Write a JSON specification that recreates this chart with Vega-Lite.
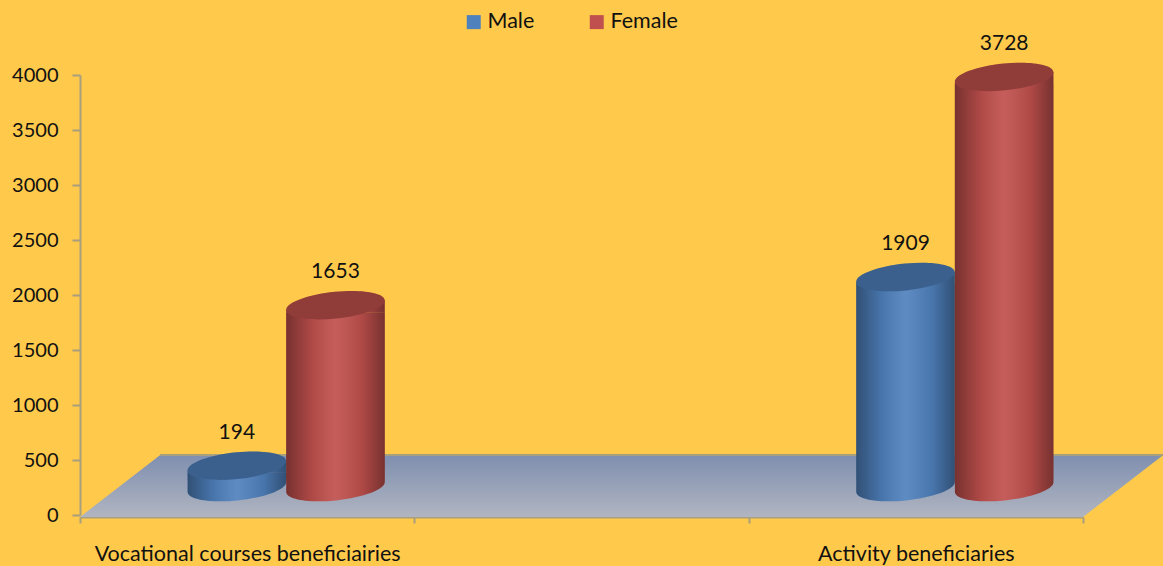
{
"$schema":"https://vega.github.io/schema/vega-lite/v6.json",
"width":1003,"height":440,
"autosize":{"type":"none"},
"padding":{"left":80,"top":75,"right":80,"bottom":51},
"background":"#FFC94B",
"config":{"view":{"stroke":null},"font":"Lato"},
"datasets":{
"bars":[
{"category":"Vocational courses beneficiairies","series":"Male","value":194},
{"category":"Vocational courses beneficiairies","series":"Female","value":1653},
{"category":"Activity beneficiaries","series":"Male","value":1909},
{"category":"Activity beneficiaries","series":"Female","value":3728}],
"floor":[
{"level":-18,"from":0,"to":3},
{"level":545,"from":0.24,"to":3.24}]
},
"resolve":{"scale":{"x":"independent"},"axis":{"x":"independent","y":"shared"}},
"layer":[
{"data":{"name":"floor"},
 "mark":{"type":"area","orient":"horizontal","fill":{"gradient":"linear","x1":0,"y1":0,"x2":0,"y2":1,"stops":[{"offset":0,"color":"#7f8fb0"},{"offset":1,"color":"#b0b5c0"}]}},
 "encoding":{
  "y":{"field":"level","type":"quantitative","scale":{"domain":[0,4000],"nice":false},"axis":{"title":null,"format":"d","values":[0,500,1000,1500,2000,2500,3000,3500,4000],"grid":false,"domainColor":"#A89F7E","domainWidth":2,"tickColor":"#A89F7E","tickWidth":2,"tickSize":8,"labelFont":"Lato","labelFontSize":20,"labelColor":"#111111","labelPadding":14}},
  "x":{"field":"from","type":"quantitative","scale":{"domain":[0,3],"nice":false,"zero":false},"axis":null},
  "x2":{"field":"to"}}},
{"data":{"name":"floor"},"transform":[{"filter":"datum.level>0"}],
 "mark":{"type":"rule","color":"#A89F7E","strokeWidth":2},
 "encoding":{
  "y":{"field":"level","type":"quantitative"},
  "x":{"field":"from","type":"quantitative","scale":{"domain":[0,3],"nice":false,"zero":false},"axis":null},
  "x2":{"field":"to"}}},
{"data":{"name":"bars"},
 "mark":{"type":"bar","opacity":0},
 "encoding":{
  "x":{"field":"category","type":"nominal","scale":{"domain":["Vocational courses beneficiairies","","Activity beneficiaries"],"paddingInner":0,"paddingOuter":0},"axis":{"title":null,"labelAngle":0,"tickBand":"extent","offset":2,"domainColor":"#A89F7E","domainWidth":2,"tickColor":"#A89F7E","tickWidth":2,"tickSize":6,"labelFont":"Lato","labelFontSize":21.5,"labelColor":"#111111","labelPadding":20,"labelOverlap":false,"labelLimit":500}},
  "y":{"datum":0,"type":"quantitative"}}},
{"data":{"name":"bars"},
 "mark":{"type":"point","shape":"M-1,-0.142L-1,0.1A1,0.27,-6,1,0,1,-0.1L1,-0.142Z","size":9702,"filled":true,"opacity":1,"yOffset":-28},
 "encoding":{
  "x":{"field":"category","type":"nominal","scale":{"domain":["Vocational courses beneficiairies","","Activity beneficiaries"],"paddingInner":0.41,"paddingOuter":0.205,"range":[39,1042]},"axis":null},
  "xOffset":{"field":"series","type":"nominal","scale":{"domain":["Male","Female"],"paddingInner":0,"paddingOuter":0}},
  "y":{"datum":0,"type":"quantitative"},
  "color":{"field":"series","type":"nominal","scale":{"domain":["Male","Female"],"range":["#4F81BD","#C0504D"]},"legend":{"orient":"none","legendX":383,"legendY":-64,"direction":"horizontal","title":null,"symbolType":"square","symbolSize":196,"symbolStrokeWidth":0,"labelFont":"Lato","labelFontSize":21.5,"labelColor":"#111111","columnPadding":51,"labelOffset":3,"padding":0}}}},
{"data":{"name":"bars"},
 "mark":{"type":"bar","yOffset":-21,"y2Offset":-35},
 "encoding":{
  "x":{"field":"category","type":"nominal","scale":{"domain":["Vocational courses beneficiairies","","Activity beneficiaries"],"paddingInner":0.41,"paddingOuter":0.205,"range":[39,1042]},"axis":null},
  "xOffset":{"field":"series","type":"nominal","scale":{"domain":["Male","Female"],"paddingInner":0,"paddingOuter":0}},
  "y":{"field":"value","type":"quantitative","stack":null},
  "y2":{"datum":0},
  "color":{"field":"series","type":"nominal","scale":{"domain":["Male","Female"],"range":["#4F81BD","#C0504D"]},
   "legend":{"orient":"none","legendX":383,"legendY":-64,"direction":"horizontal","title":null,"symbolType":"square","symbolSize":196,"symbolStrokeWidth":0,"labelFont":"Lato","labelFontSize":21.5,"labelColor":"#111111","columnPadding":51,"labelOffset":3,"padding":0}}}},
{"data":{"name":"bars"},
 "mark":{"type":"point","shape":"M-1,0.1L1,-0.1L1,0.142L-1,0.142Z","size":9702,"filled":true,"opacity":1,"yOffset":-28},
 "encoding":{
  "x":{"field":"category","type":"nominal","scale":{"domain":["Vocational courses beneficiairies","","Activity beneficiaries"],"paddingInner":0.41,"paddingOuter":0.205,"range":[39,1042]},"axis":null},
  "xOffset":{"field":"series","type":"nominal","scale":{"domain":["Male","Female"],"paddingInner":0,"paddingOuter":0}},
  "y":{"field":"value","type":"quantitative"},
  "color":{"field":"series","type":"nominal","scale":{"domain":["Male","Female"],"range":["#4F81BD","#C0504D"]},"legend":{"orient":"none","legendX":383,"legendY":-64,"direction":"horizontal","title":null,"symbolType":"square","symbolSize":196,"symbolStrokeWidth":0,"labelFont":"Lato","labelFontSize":21.5,"labelColor":"#111111","columnPadding":51,"labelOffset":3,"padding":0}}}},
{"data":{"name":"bars"},
 "mark":{"type":"point","shape":"M-1,-0.142L-1,0.1A1,0.27,-6,1,0,1,-0.1L1,-0.142Z","size":9702,"filled":true,"opacity":1,"yOffset":-28,"fill":{"gradient":"linear","x1":0,"y1":0,"x2":1,"y2":0,"stops":[{"offset":0,"color":"rgba(0,0,0,0.38)"},{"offset":0.25,"color":"rgba(0,0,0,0.1)"},{"offset":0.5,"color":"rgba(255,255,255,0.08)"},{"offset":0.78,"color":"rgba(0,0,0,0.1)"},{"offset":1,"color":"rgba(0,0,0,0.38)"}]}},
 "encoding":{
  "x":{"field":"category","type":"nominal","scale":{"domain":["Vocational courses beneficiairies","","Activity beneficiaries"],"paddingInner":0.41,"paddingOuter":0.205,"range":[39,1042]},"axis":null},
  "xOffset":{"field":"series","type":"nominal","scale":{"domain":["Male","Female"],"paddingInner":0,"paddingOuter":0}},
  "y":{"datum":0,"type":"quantitative"}}},
{"data":{"name":"bars"},
 "mark":{"type":"bar","yOffset":-21,"y2Offset":-35,"fill":{"gradient":"linear","x1":0,"y1":0,"x2":1,"y2":0,"stops":[{"offset":0,"color":"rgba(0,0,0,0.38)"},{"offset":0.25,"color":"rgba(0,0,0,0.1)"},{"offset":0.5,"color":"rgba(255,255,255,0.08)"},{"offset":0.78,"color":"rgba(0,0,0,0.1)"},{"offset":1,"color":"rgba(0,0,0,0.38)"}]}},
 "encoding":{
  "x":{"field":"category","type":"nominal","scale":{"domain":["Vocational courses beneficiairies","","Activity beneficiaries"],"paddingInner":0.41,"paddingOuter":0.205,"range":[39,1042]},"axis":null},
  "xOffset":{"field":"series","type":"nominal","scale":{"domain":["Male","Female"],"paddingInner":0,"paddingOuter":0}},
  "y":{"field":"value","type":"quantitative","stack":null},
  "y2":{"datum":0}}},
{"data":{"name":"bars"},
 "mark":{"type":"point","shape":"M-1,0.1L1,-0.1L1,0.142L-1,0.142Z","size":9702,"filled":true,"opacity":1,"yOffset":-28,"fill":{"gradient":"linear","x1":0,"y1":0,"x2":1,"y2":0,"stops":[{"offset":0,"color":"rgba(0,0,0,0.38)"},{"offset":0.25,"color":"rgba(0,0,0,0.1)"},{"offset":0.5,"color":"rgba(255,255,255,0.08)"},{"offset":0.78,"color":"rgba(0,0,0,0.1)"},{"offset":1,"color":"rgba(0,0,0,0.38)"}]}},
 "encoding":{
  "x":{"field":"category","type":"nominal","scale":{"domain":["Vocational courses beneficiairies","","Activity beneficiaries"],"paddingInner":0.41,"paddingOuter":0.205,"range":[39,1042]},"axis":null},
  "xOffset":{"field":"series","type":"nominal","scale":{"domain":["Male","Female"],"paddingInner":0,"paddingOuter":0}},
  "y":{"field":"value","type":"quantitative"}}},
{"data":{"name":"bars"},
 "mark":{"type":"point","shape":"M-1,0.1A1,0.27,-6,1,1,1,-0.1A1,0.27,-6,1,1,-1,0.1Z","size":9702,"filled":true,"opacity":1,"yOffset":-28},
 "encoding":{
  "x":{"field":"category","type":"nominal","scale":{"domain":["Vocational courses beneficiairies","","Activity beneficiaries"],"paddingInner":0.41,"paddingOuter":0.205,"range":[39,1042]},"axis":null},
  "xOffset":{"field":"series","type":"nominal","scale":{"domain":["Male","Female"],"paddingInner":0,"paddingOuter":0}},
  "y":{"field":"value","type":"quantitative"},
  "color":{"field":"series","type":"nominal","scale":{"domain":["Male","Female"],"range":["#4F81BD","#C0504D"]},"legend":{"orient":"none","legendX":383,"legendY":-64,"direction":"horizontal","title":null,"symbolType":"square","symbolSize":196,"symbolStrokeWidth":0,"labelFont":"Lato","labelFontSize":21.5,"labelColor":"#111111","columnPadding":51,"labelOffset":3,"padding":0}}}},
{"data":{"name":"bars"},
 "mark":{"type":"point","shape":"M-1,0.1A1,0.27,-6,1,1,1,-0.1A1,0.27,-6,1,1,-1,0.1Z","size":9702,"filled":true,"opacity":0.25,"color":"#000000","yOffset":-28},
 "encoding":{
  "x":{"field":"category","type":"nominal","scale":{"domain":["Vocational courses beneficiairies","","Activity beneficiaries"],"paddingInner":0.41,"paddingOuter":0.205,"range":[39,1042]},"axis":null},
  "xOffset":{"field":"series","type":"nominal","scale":{"domain":["Male","Female"],"paddingInner":0,"paddingOuter":0}},
  "y":{"field":"value","type":"quantitative"}}},
{"data":{"name":"bars"},
 "mark":{"type":"text","font":"Lato","fontSize":21,"color":"#111111","yOffset":-61},
 "encoding":{
  "x":{"field":"category","type":"nominal","scale":{"domain":["Vocational courses beneficiairies","","Activity beneficiaries"],"paddingInner":0.41,"paddingOuter":0.205,"range":[39,1042]},"axis":null},
  "xOffset":{"field":"series","type":"nominal","scale":{"domain":["Male","Female"],"paddingInner":0,"paddingOuter":0}},
  "y":{"field":"value","type":"quantitative"},
  "text":{"field":"value","type":"quantitative","format":"d"}}}
]
}
